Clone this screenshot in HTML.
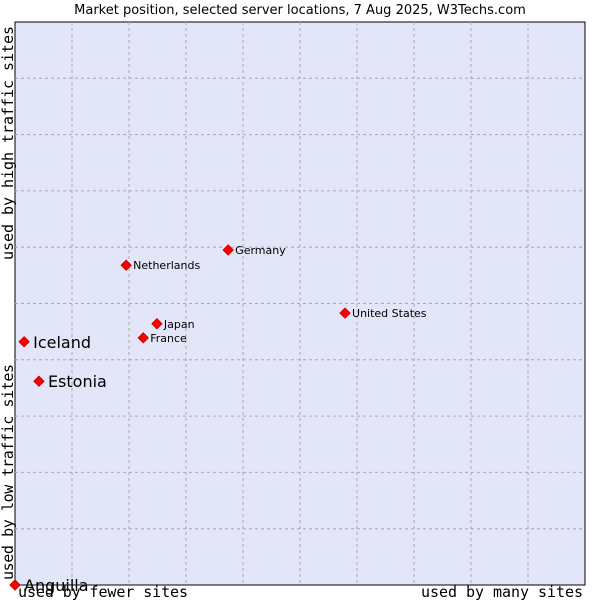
<!DOCTYPE html>
<html><head><meta charset="utf-8"><style>
body{margin:0;background:#fff;width:600px;height:600px;overflow:hidden}
text{font-family:"DejaVu Sans","Liberation Sans",sans-serif}
.mono{font-family:"DejaVu Sans Mono","Liberation Mono",monospace}
</style></head><body>
<svg id="chart" width="600" height="600" xmlns="http://www.w3.org/2000/svg">
<text x="300" y="14" text-anchor="middle" font-size="13">Market position, selected server locations, 7 Aug 2025, W3Techs.com</text>
<rect x="15" y="22" width="570" height="563" fill="#e3e5f8" stroke="#000" stroke-width="1"/>
<g id="grid"></g>
<g id="pts"></g>
<text class="mono" x="18" y="597" font-size="15" textLength="170">used by fewer sites</text>
<text class="mono" x="421" y="597" font-size="15" textLength="162">used by many sites</text>
<text class="mono" transform="translate(13,580) rotate(-90)" font-size="15" textLength="216">used by low traffic sites</text>
<text class="mono" transform="translate(13,260) rotate(-90)" font-size="15" textLength="234">used by high traffic sites</text>
</svg>
<script>
const names=["Anguilla","Iceland","Estonia","Netherlands","Germany","Japan","France","United States"];
const xs=[0,1.6,4.2,19.5,37.4,24.9,22.5,57.9];
const ys=[0,43.2,36.2,56.8,59.5,46.4,43.9,48.3];
const big=[true,true,true,false,false,false,false,false];
const X=v=>15+v*5.7, Y=v=>585-v*5.63;
const ns="http://www.w3.org/2000/svg";
const g=document.getElementById('grid');
for(let i=1;i<10;i++){
 let l=document.createElementNS(ns,'line');
 
 
 l.setAttribute('x1',X(i*10));l.setAttribute('x2',X(i*10));l.setAttribute('y1',22);l.setAttribute('y2',585);
 l.setAttribute('stroke','#aaa');l.setAttribute('stroke-dasharray','3,3');g.appendChild(l);
 let h=document.createElementNS(ns,'line');
 
 
 h.setAttribute('y1',Y(i*10));h.setAttribute('y2',Y(i*10));h.setAttribute('x1',15);h.setAttribute('x2',585);
 h.setAttribute('stroke','#aaa');h.setAttribute('stroke-dasharray','3,3');g.appendChild(h);
}
const p=document.getElementById('pts');
names.forEach((n,i)=>{
 const cx=X(xs[i]),cy=Y(ys[i]);
 let d=document.createElementNS(ns,'path');
 
 
 d.setAttribute('d',`M${cx} ${cy-5}L${cx+5} ${cy}L${cx} ${cy+5}L${cx-5} ${cy}Z`);
 d.setAttribute('fill','#f00');d.setAttribute('stroke','#c00');p.appendChild(d);
 let t=document.createElementNS(ns,'text');
 
 
 t.setAttribute('x',cx+(big[i]?9:7));t.setAttribute('y',cy+(big[i]?6:4));
 t.setAttribute('font-size',big[i]?16:11);t.textContent=n;p.appendChild(t);
});
</script>
</body></html>
